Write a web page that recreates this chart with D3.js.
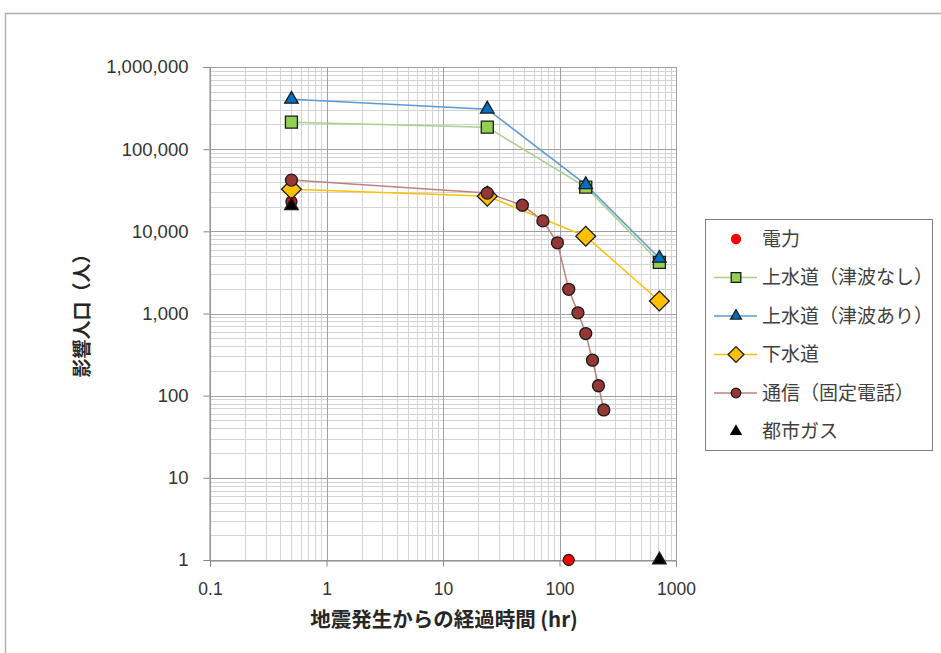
<!DOCTYPE html>
<html>
<head>
<meta charset="utf-8">
<script src="https://cdn.jsdelivr.net/npm/d3@7"></script>
<style>
  body { margin: 0; background: #fff; }
  svg { display: block; font-family: "Noto Sans CJK JP", "Noto Sans", sans-serif; }
</style>
</head>
<body>
<script>
// 地震発生からの経過時間 (hr)
var hoursBase = [0.5, 24, 168, 720];
var hoursTel = [0.5, 24, 48, 72, 96, 120, 144, 168, 192, 216, 240];

// 影響人口
var powerX = [0.5, 120];
var powerY = [23000, 1];
var waterNoTsunami = [213000, 185000, 34500, 4200];
var waterTsunami = [405000, 307000, 37000, 4700];
var sewage = [32600, 26800, 8700, 1420];
var telecom = [42000, 29200, 20800, 13400, 7250, 1970, 1020, 570, 270, 132, 67];
var gasX = [0.5, 720];
var gasY = [20500, 1];

var xTicks = [0.1, 1, 10, 100, 1000];
var yTicks = [1, 10, 100, 1000, 10000, 100000, 1000000];

var legendNames = ['電力', '上水道（津波なし）', '上水道（津波あり）', '下水道', '通信（固定電話）', '都市ガス'];

function zip(xs, ys) { return xs.map(function (x, i) { return [x, ys[i]]; }); }

var series = [
  { name: legendNames[0], pts: zip(powerX, powerY), line: null, fill: '#ff0000', shape: 'circle', size: 11 },
  { name: legendNames[1], pts: zip(hoursBase, waterNoTsunami), line: '#a9d08e', fill: '#92d050', shape: 'square', size: 12 },
  { name: legendNames[2], pts: zip(hoursBase, waterTsunami), line: '#5b9bd5', fill: '#0070c0', shape: 'triangle', size: 12 },
  { name: legendNames[3], pts: zip(hoursBase, sewage), line: '#ffc000', fill: '#ffc000', shape: 'diamond', size: 14 },
  { name: legendNames[4], pts: zip(hoursTel, telecom), line: '#c0807e', fill: '#953735', shape: 'circle', size: 12 },
  { name: legendNames[5], pts: zip(gasX, gasY), line: null, fill: '#000000', shape: 'triangle', size: 12 }
];

var W = 941, H = 653;
var svg = d3.select('body').append('svg').attr('width', W).attr('height', H);

// outer frame
svg.append('rect').attr('x', 5.5).attr('y', 13.5).attr('width', W).attr('height', H)
  .attr('fill', 'none').attr('stroke', '#b0b0b0').attr('stroke-width', 1.5);

var x = d3.scaleLog().domain([0.1, 1000]).range([210, 676]);
var y = d3.scaleLog().domain([1, 1000000]).range([560, 67]);

// minor grid
var minorX = [], minorY = [];
for (var d = 0.1; d < 1000; d *= 10) for (var k = 2; k <= 9; k++) minorX.push(d * k);
for (var e = 1; e < 1000000; e *= 10) for (var k2 = 2; k2 <= 9; k2++) minorY.push(e * k2);

var grid = svg.append('g');
grid.selectAll('.mx').data(minorX).enter().append('line')
  .attr('x1', function (v) { return Math.round(x(v)) + 0.5; }).attr('x2', function (v) { return Math.round(x(v)) + 0.5; })
  .attr('y1', y(1)).attr('y2', y(1000000))
  .attr('stroke', '#d4d4d4').attr('stroke-width', 1);
grid.selectAll('.my').data(minorY).enter().append('line')
  .attr('y1', function (v) { return Math.round(y(v)) + 0.5; }).attr('y2', function (v) { return Math.round(y(v)) + 0.5; })
  .attr('x1', x(0.1)).attr('x2', x(1000))
  .attr('stroke', '#d4d4d4').attr('stroke-width', 1);
grid.selectAll('.Mx').data(xTicks).enter().append('line')
  .attr('x1', function (v) { return Math.round(x(v)) + 0.5; }).attr('x2', function (v) { return Math.round(x(v)) + 0.5; })
  .attr('y1', y(1)).attr('y2', y(1000000))
  .attr('stroke', '#a0a0a0').attr('stroke-width', 1);
grid.selectAll('.My').data(yTicks).enter().append('line')
  .attr('y1', function (v) { return Math.round(y(v)) + 0.5; }).attr('y2', function (v) { return Math.round(y(v)) + 0.5; })
  .attr('x1', x(0.1)).attr('x2', x(1000))
  .attr('stroke', '#a0a0a0').attr('stroke-width', 1);

// axes
var fmtY = d3.format(',');
var yAxis = svg.append('g').attr('transform', 'translate(' + (x(0.1) - 0.5) + ',0)')
  .call(d3.axisLeft(y).tickValues(yTicks).tickFormat(fmtY).tickSize(6).tickPadding(15));
var xAxis = svg.append('g').attr('transform', 'translate(0,' + (y(1) + 0.5) + ')')
  .call(d3.axisBottom(x).tickValues(xTicks).tickFormat(function (v) { return String(v); }).tickSize(6).tickPadding(16));
[yAxis, xAxis].forEach(function (a) {
  a.select('.domain').attr('stroke', '#868686');
  a.selectAll('.tick line').attr('stroke', '#868686');
  a.selectAll('.tick text').attr('fill', '#333333').style('font-size', '17.5px')
    .style('font-family', '"Liberation Sans", sans-serif');
});
yAxis.selectAll('.tick text').style('font-size', '18.5px');

// axis titles
svg.append('text').attr('x', 444).attr('y', 627).attr('text-anchor', 'middle')
  .style('font-size', '20.5px').style('font-weight', 'bold').attr('fill', '#262626')
  .text('地震発生からの経過時間 (hr)');
svg.append('text').attr('transform', 'translate(89,311) rotate(-90)').attr('text-anchor', 'middle')
  .style('font-size', '19px').style('font-weight', 'bold').attr('fill', '#262626')
  .text('影響人口（人）');

// symbols
var shapeMap = { circle: d3.symbolCircle, square: d3.symbolSquare, triangle: d3.symbolTriangle, diamond: d3.symbolSquare };
function drawMarker(g, s, size, outline) {
  var px = size * size * (s.shape === 'circle' ? 0.785 : s.shape === 'triangle' ? 0.55 : 1);
  var p = g.append('path').attr('d', d3.symbol().type(shapeMap[s.shape]).size(px)())
    .attr('fill', s.fill).attr('stroke', outline ? '#1a1a1a' : s.fill)
    .attr('stroke-width', 1.3);
  if (s.shape === 'diamond') p.attr('transform', 'rotate(45)');
  return p;
}

var line = d3.line().x(function (p) { return x(p[0]); }).y(function (p) { return y(p[1]); });
var plot = svg.append('g');
series.forEach(function (s) {
  if (s.line) {
    plot.append('path').datum(s.pts).attr('d', line)
      .attr('fill', 'none').attr('stroke', s.line).attr('stroke-width', 1.5);
  }
});
series.forEach(function (s) {
  s.pts.forEach(function (p) {
    var g = plot.append('g').attr('transform', 'translate(' + x(p[0]) + ',' + y(p[1]) + ')');
    drawMarker(g, s, s.size, true);
  });
});

// legend
var lg = svg.append('g');
lg.append('rect').attr('x', 705.5).attr('y', 219.5).attr('width', 227).attr('height', 231)
  .attr('fill', '#fff').attr('stroke', '#7f7f7f').attr('stroke-width', 1);
series.forEach(function (s, i) {
  var cy = 239 + i * 38.5;
  if (s.line) {
    lg.append('line').attr('x1', 714).attr('x2', 757).attr('y1', cy).attr('y2', cy)
      .attr('stroke', s.line).attr('stroke-width', 1.5);
  }
  var g = lg.append('g').attr('transform', 'translate(736,' + cy + ')');
  var plain = s.line === null;
  drawMarker(g, s, plain ? 9 : s.size * 0.8, !plain);
  lg.append('text').attr('x', 762).attr('y', cy).attr('dy', '0.36em')
    .style('font-size', '19px').attr('fill', '#404040').text(s.name);
});
</script>
</body>
</html>
